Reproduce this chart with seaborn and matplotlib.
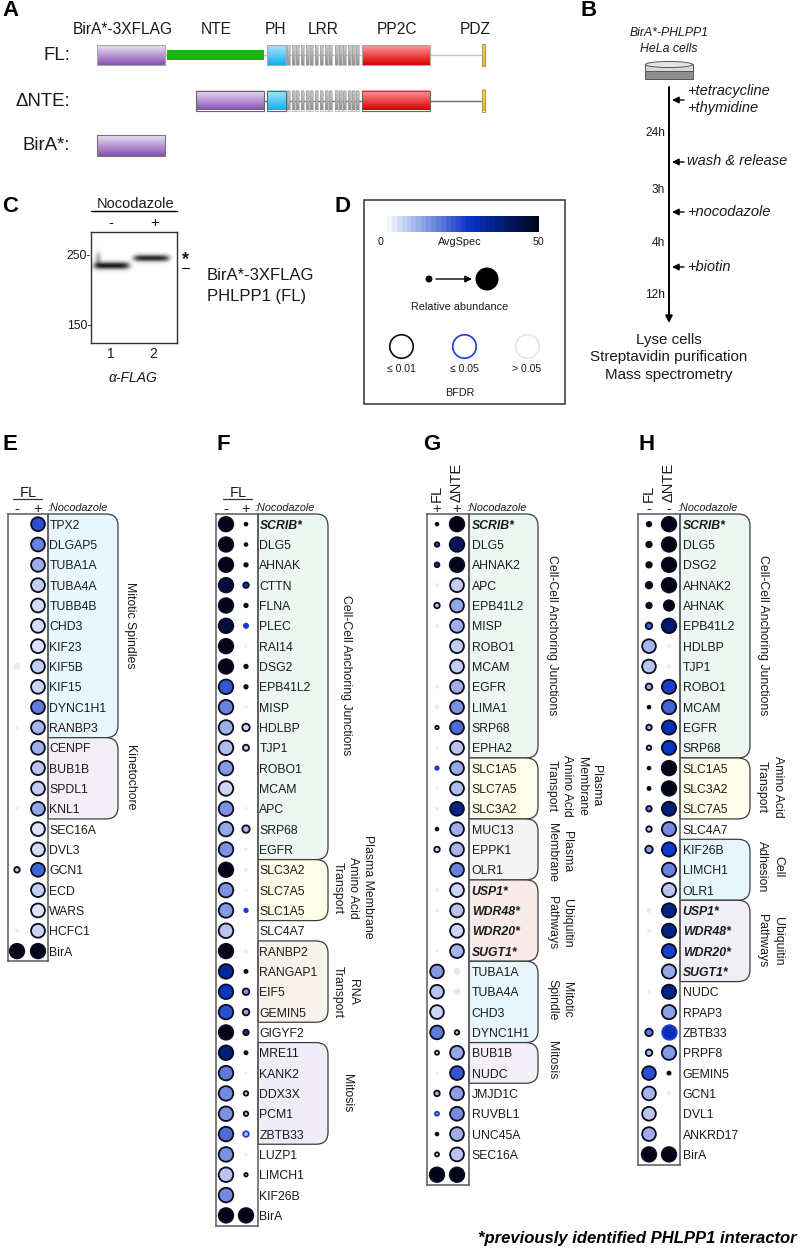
"""Recreate the PHLPP1 BioID figure: domain maps, workflow, blot, legend and four dot plots."""
import matplotlib
matplotlib.use("Agg")
import matplotlib.pyplot as plt
import numpy as np
import pandas as pd
import seaborn as sns
from matplotlib.cm import ScalarMappable
from matplotlib.colors import LinearSegmentedColormap, Normalize, to_rgb
from matplotlib.patches import Ellipse, PathPatch, Rectangle
from matplotlib.path import Path

W, H = 800, 1253
ROW = 20.33
TOP = 514

# BFDR classes: 0 is <= 0.01, 1 is <= 0.05, 2 is > 0.05. None means no dot.
E_GENES = ["TPX2", "DLGAP5", "TUBA1A", "TUBA4A", "TUBB4B", "CHD3", "KIF23", "KIF5B", "KIF15", "DYNC1H1", "RANBP3",
           "CENPF", "BUB1B", "SPDL1", "KNL1", "SEC16A", "DVL3", "GCN1", "ECD", "WARS", "HCFC1", "BirA"]
E_AVG_0 = [None, None, None, None, None, None, None, 12, None, None, 10, None, None, None, 10, None, None, 8, None, None, 10, 50]
E_REL_0 = [None, None, None, None, None, None, None, .2, None, None, .05, None, None, None, .05, None, None, .12, None, None, .08, 1]
E_FDR_0 = [2, 2, 2, 2, 2, 2, 2, 2, 2, 2, 2, 2, 2, 2, 2, 2, 2, 0, 2, 2, 2, 0]
E_AVG_1 = [24, 17, 11, 7, 5, 5, 4, 7, 6, 18, 10, 11, 8, 7, 12, 4, 5, 21, 7, 4, 6, 50]
E_REL_1 = [.9, .9, .9, .9, .9, .9, .9, .9, .9, .9, .9, .9, .9, .9, .9, .9, .9, .9, .9, .9, .9, 1]
E_FDR_1 = [0] * 22

F_GENES = ["SCRIB*", "DLG5", "AHNAK", "CTTN", "FLNA", "PLEC", "RAI14", "DSG2", "EPB41L2", "MISP", "HDLBP", "TJP1",
           "ROBO1", "MCAM", "APC", "SRP68", "EGFR", "SLC3A2", "SLC7A5", "SLC1A5", "SLC4A7", "RANBP2", "RANGAP1",
           "EIF5", "GEMIN5", "GIGYF2", "MRE11", "KANK2", "DDX3X", "PCM1", "ZBTB33", "LUZP1", "LIMCH1", "KIF26B", "BirA"]
F_AVG_0 = [50, 50, 50, 46, 50, 46, 50, 50, 23, 17, 11, 9, 14, 6, 15, 12, 15, 50, 15, 14, 8, 50, 34, 28, 24, 50,
           38, 18, 16, 15, 20, 15, 8, 16, 50]
F_REL_0 = [1] * 35
F_FDR_0 = [0] * 35
F_AVG_1 = [50, 50, 45, 27, 45, 27, 10, 45, 45, 10, 6, 6, None, None, 10, 9, 10, 10, 10, 27, None, 10, 40, 15, 12, 30,
           40, 10, 8, 8, 8, 10, 7, None, 50]
F_REL_1 = [.01, .01, .03, .12, .03, .06, .03, .03, .03, .03, .24, .15, None, None, .03, .24, .06, .06, .02, .03, None,
           .06, .02, .18, .18, .12, .02, .02, .07, .07, .12, .03, .03, None, 1]
F_FDR_1 = [0, 0, 0, 0, 0, 1, 2, 0, 0, 2, 0, 0, 2, 2, 2, 0, 2, 2, 2, 1, 2, 2, 0, 0, 0, 0, 0, 2, 0, 0, 1, 2, 0, 2, 0]

G_GENES = ["SCRIB*", "DLG5", "AHNAK2", "APC", "EPB41L2", "MISP", "ROBO1", "MCAM", "EGFR", "LIMA1", "SRP68", "EPHA2",
           "SLC1A5", "SLC7A5", "SLC3A2", "MUC13", "EPPK1", "OLR1", "USP1*", "WDR48*", "WDR20*", "SUGT1*",
           "TUBA1A", "TUBA4A", "CHD3", "DYNC1H1", "BUB1B", "NUDC", "JMJD1C", "RUVBL1", "UNC45A", "SEC16A", ""]
G_AVG_0 = [50, 25, 30, 10, 8, 10, None, None, 10, 10, 8, 10, 27, 10, 10, 50, 6, None, 10, 10, None, 10,
           14, 8, 6, 18, 5, 10, 10, 15, 45, 5, 50]
G_REL_0 = [.01, .07, .08, .05, .12, .05, None, None, .05, .09, .03, .02, .03, .02, .05, .01, .12, None, .05, .05, None,
           .02, .88, .88, .88, .88, .05, .02, .12, .05, .01, .05, 1]
G_FDR_0 = [0, 0, 0, 2, 0, 2, 2, 2, 2, 2, 0, 2, 1, 2, 2, 0, 0, 2, 2, 2, 2, 2, 0, 0, 0, 0, 0, 2, 0, 1, 0, 0, 0]
G_AVG_1 = [50, 42, 50, 7, 12, 11, 7, 7, 11, 15, 20, 8, 12, 9, 36, 11, 10, 17, 6, 8, 6, 10, 14, 14, None, 8, 12, 23,
           13, 16, 11, 8, 50]
G_REL_1 = [1, 1, 1, .9, .9, .9, .9, .9, .9, .9, .9, .9, .9, .9, .9, .9, .9, .9, .9, .9, .9, .9, .2, .2, None, .07,
           .9, .9, .9, .9, .9, .9, 1]
G_FDR_1 = [0] * 22 + [2, 2, 2] + [0] * 8

H_GENES = ["SCRIB*", "DLG5", "DSG2", "AHNAK2", "AHNAK", "EPB41L2", "HDLBP", "TJP1", "ROBO1", "MCAM", "EGFR", "SRP68",
           "SLC1A5", "SLC3A2", "SLC7A5", "SLC4A7", "KIF26B", "LIMCH1", "OLR1", "USP1*", "WDR48*", "WDR20*", "SUGT1*",
           "NUDC", "RPAP3", "ZBTB33", "PRPF8", "GEMIN5", "GCN1", "DVL1", "ANKRD17", "BirA"]
H_AVG_0 = [50, 50, 50, 50, 50, 22, 10, 8, 12, 50, 12, 8, 50, 50, 18, 8, 14, None, None, 12, 10, None, None, 10, None,
           18, 10, 24, 10, 8, 11, 50]
H_REL_0 = [.07, .12, .12, .18, .12, .18, .88, .88, .18, .01, .12, .07, .01, .02, .12, .12, .24, None, None, .09, .05,
           None, None, .02, None, .24, .18, .88, .88, .88, .88, 1]
H_FDR_0 = [0] * 19 + [2, 2, 2, 2, 2, 2] + [0] * 7
H_AVG_1 = [50, 50, 50, 50, 50, 40, 10, 10, 26, 21, 30, 28, 50, 50, 38, 16, 27, 17, 8, 36, 36, 26, 12, 36, 13, 30, 14,
           50, 10, None, None, 50]
H_REL_1 = [1, 1, 1, 1, .5, 1, .09, .09, .95, .95, .95, .95, 1, 1, .95, .95, .95, .95, .95, .95, .95, .95, .95, .95,
           .95, 1, .95, .02, .09, None, None, 1]
H_FDR_1 = [0] * 6 + [2, 2] + [0] * 17 + [1, 0, 0, 2, 2, 2, 0]

# label start, label end, tint
E_GROUPS = [(0, 10, "#e8f6fd"), (11, 14, "#f3eef8")]
F_GROUPS = [(0, 16, "#ebf7f0"), (17, 19, "#fefde9"), (21, 24, "#f8f2ec"), (26, 30, "#f0ecf8")]
G_GROUPS = [(0, 11, "#ebf7f0"), (12, 14, "#fefde9"), (15, 17, "#f4f4f4"), (18, 21, "#f8ebe9"), (22, 25, "#e8f6fd"),
            (26, 27, "#f3eef8")]
H_GROUPS = [(0, 11, "#ebf7f0"), (12, 14, "#fefde9"), (16, 18, "#e8f6fd"), (19, 22, "#f2eef8")]

GROUP_LABELS = [
    ("Mitotic Spindles", 130, 625), ("Kinetochore", 130, 778),
    ("Cell-Cell Anchoring Junctions", 346, 675), ("Plasma Membrane", 368, 887), ("Amino Acid", 353, 888),
    ("Transport", 338, 888), ("RNA", 353, 992), ("Transport", 338, 992), ("Mitosis", 347, 1093),
    ("Cell-Cell Anchoring Junctions", 552, 635), ("Plasma", 596, 786), ("Membrane", 582, 786),
    ("Amino Acid", 567, 786), ("Transport", 552, 786), ("Plasma", 567, 852), ("Membrane", 552, 852),
    ("Ubiquitin", 567, 923), ("Pathways", 552, 923), ("Mitotic", 567, 1000), ("Spindle", 552, 1000),
    ("Mitosis", 552, 1060),
    ("Cell-Cell Anchoring Junctions", 763, 635), ("Amino Acid", 778, 787), ("Transport", 762, 787),
    ("Cell", 778, 867), ("Adhesion", 762, 867), ("Ubiquitin", 778, 941), ("Pathways", 762, 941),
]

DOMAIN_NAMES = ["BirA*-3XFLAG", "NTE", "PH", "LRR", "PP2C", "PDZ"]
TIME_LABELS = ["24h", "3h", "4h", "12h"]
BFDR_KEY = ["≤ 0.01", "≤ 0.05", "> 0.05"]
ABUNDANCE_KEY = [0, 1]

sns.set_style("white")
plt.rcParams["font.family"] = ["Liberation Sans", "DejaVu Sans"]

CMAP = LinearSegmentedColormap.from_list(
    "avgspec", [(0, "#ffffff"), (.55, "#0a35c8"), (.75, "#00207f"), (1, "#02041a")])
INK = "#1a1a1a"

fig = plt.figure(figsize=(W / 100, H / 100), dpi=100, facecolor="white")
bg = fig.add_axes([0, 0, 1, 1], zorder=0)


def px_axes(x0, y0, x1, y1, z=2):
    return fig.add_axes([x0 / W, 1 - y1 / H, (x1 - x0) / W, (y1 - y0) / H], zorder=z, facecolor="none")


def label(x, y, s, size=8.8, ha="center", va="center", **kw):
    bg.text(x, y, s, fontsize=size, ha=ha, va=va, color=kw.pop("color", INK), **kw)


def grad_box(x0, y0, x1, y1, top, bottom, edge="#8a8a8a", lw=.8):
    ramp = np.linspace(to_rgb(top), to_rgb(bottom), 32)[:, None, :]
    bg.imshow(ramp, extent=(x0, x1, y1, y0), aspect="auto", interpolation="bilinear", zorder=2)
    bg.add_patch(Rectangle((x0, y0), x1 - x0, y1 - y0, fill=False, ec=edge, lw=lw, zorder=3))


def construct(y, x_birA, nte, line, edge):
    bg.plot([x_birA[1], 482], [y, y], color=line, lw=1, zorder=1)
    grad_box(x_birA[0], y - 10, x_birA[1], y + 10, "#ebe2f5", "#8650b0", edge)
    if nte:
        bg.add_patch(Rectangle((167, y - 5), 97, 10, color="#12b80f", lw=0, zorder=2))
    grad_box(267, y - 10, 286, y + 10, "#a8e6fb", "#16aeef", edge)
    for x in list(np.arange(287, 330, 4.7)) + list(np.arange(335, 360, 4.2)):
        grad_box(x, y - 10, x + 3, y + 10, "#cccccc", "#929292", "#9a9a9a", lw=.4)
    grad_box(362, y - 10, 430, y + 10, "#ff9a9a", "#d60000", edge)
    grad_box(482, y - 11, 485, y + 11, "#f8d660", "#f0b818", "#b09a50")


def panel_frame(genes, avg0, rel0, fdr0, avg1, rel1, fdr1):
    a = pd.DataFrame({"row": range(len(genes)), "col": 0, "avg": avg0, "rel": rel0, "fdr": fdr0})
    b = pd.DataFrame({"row": range(len(genes)), "col": 1, "avg": avg1, "rel": rel1, "fdr": fdr1})
    d = pd.concat([a, b], ignore_index=True)
    d["avg"] = pd.to_numeric(d["avg"])
    d["rel"] = pd.to_numeric(d["rel"])
    return d.dropna(subset=["rel"])


def dot_panel(genes, frame, x0, x_dots, x1, groups, right, pad):
    y1 = TOP + len(genes) * ROW
    for first, last, tint in groups:
        top = TOP + first * ROW
        bot = TOP + (last + 1) * ROW
        r = 12
        verts = [(x1, top), (right - r, top), (right, top), (right, top + r), (right, bot - r),
                 (right, bot), (right - r, bot), (x1, bot), (x1, top)]
        codes = [Path.MOVETO, Path.LINETO, Path.CURVE3, Path.CURVE3, Path.LINETO, Path.CURVE3, Path.CURVE3,
                 Path.LINETO, Path.CLOSEPOLY]
        bg.add_patch(PathPatch(Path(verts, codes), fc=tint, ec="#3c3c3c", lw=.9, zorder=1))

    ax = px_axes(x0, TOP, x1, y1)
    styles = {0: ("#0b0b1e", 1.3, 1), 1: ("#1a3fd0", 1.3, 1), 2: ("none", 0, .22)}
    for level, (edge, lw, alpha) in styles.items():
        sub = frame[frame["fdr"] == level]
        if sub.empty:
            continue
        sns.scatterplot(data=sub, x="col", y="row", hue="avg", hue_norm=(0, 50), palette=CMAP, size="rel",
                        size_norm=(0, 1), sizes=(3, 110), edgecolor=edge, linewidth=lw, alpha=alpha,
                        legend=False, clip_on=False, ax=ax)
    step = x_dots[1] - x_dots[0]
    ax.set_xlim((x0 - x_dots[0]) / step, (x1 - x_dots[0]) / step)
    ax.set_ylim(len(genes) - .5, -.5)
    ax.set_xticks([])
    ax.set_xlabel("")
    ax.set_ylabel("")
    ax.yaxis.tick_right()
    ax.set_yticks(range(len(genes)), genes)
    ax.tick_params(axis="y", length=0, pad=pad, labelsize=8.8, labelcolor=INK)
    for tick, name in zip(ax.get_yticklabels(), genes):
        if name.endswith("*"):
            tick.set_fontweight("bold")
            tick.set_fontstyle("italic")
    for s in ax.spines.values():
        s.set_visible(True)
        s.set_color("#5a5a5a")
        s.set_linewidth(1.1)
    return ax


# panel A: domain maps
for x, name in zip([123, 216, 276, 323, 397, 475], DOMAIN_NAMES):
    label(x, 30, name, size=11.2)
label(70, 55, "FL:", size=13.4, ha="right")
label(70, 101, "ΔNTE:", size=13.4, ha="right")
label(70, 146, "BirA*:", size=13.4, ha="right")
construct(55, (97, 165), True, "#c4c4c4", "#a8a8a8")
construct(100.5, (196, 264), False, "#707070", "#666666")
grad_box(97, 135, 165, 156, "#ebe2f5", "#8650b0", "#777777")

# panel B: workflow
label(669, 33, "BirA*-PHLPP1", style="italic")
label(669, 49, "HeLa cells", style="italic")
bg.add_patch(Rectangle((645, 71), 48, 8, fc="#8e8e8e", ec="#555555", lw=.7, zorder=2))
bg.add_patch(Rectangle((645, 64), 48, 7, fc="#d8d8d8", ec="#555555", lw=.7, zorder=2))
bg.add_patch(Ellipse((669, 64.5), 47, 6, fc="#e6e6e6", ec="#555555", lw=.7, zorder=3))
bg.annotate("", xy=(669, 323), xytext=(669, 87), arrowprops=dict(arrowstyle="-|>", color="black", lw=1.4, shrinkA=0, shrinkB=0))
for y in [100, 162, 212, 267]:
    bg.annotate("", xy=(672, y), xytext=(684, y), arrowprops=dict(arrowstyle="-|>", color="black", lw=1, shrinkA=0, shrinkB=0))
for y, s in [(91, "+tetracycline"), (108, "+thymidine"), (161, "wash & release"), (212, "+nocodazole"), (267, "+biotin")]:
    label(687, y, s, size=10.5, ha="left", style="italic")
for y, s in zip([133, 190, 243, 295], TIME_LABELS):
    label(665, y, s, size=8.6, ha="right")
for y, s in [(340, "Lyse cells"), (357, "Streptavidin purification"), (375, "Mass spectrometry")]:
    label(669, y, s, size=10.9)

# panel C: blot
label(136, 204, "Nocodazole", size=10.5)
bg.plot([91, 177], [211, 211], color="black", lw=1)
label(111, 223, "-", size=11)
label(155, 223, "+", size=11)
blot = px_axes(91, 232, 177, 343)
yy, xx = np.mgrid[232:343:222j, 91:177:172j]
band_1 = .9 * np.exp(-((yy - 265.5) / 3.6) ** 2) * np.exp(-((xx - 111.5) / 18) ** 6)
band_2 = .85 * np.exp(-((yy - 258) / 3.3) ** 2) * np.exp(-((xx - 151.5) / 18) ** 6)
smear = .3 * np.exp(-((yy - 258) / 6) ** 2) * np.exp(-((xx - 98) / 3) ** 2)
blot.imshow(1 - np.clip(band_1 + band_2 + smear, 0, 1), cmap="gray", vmin=0, vmax=1, aspect="auto",
            interpolation="bilinear")
blot.set_xticks([])
blot.set_yticks([])
for s in blot.spines.values():
    s.set_visible(True)
    s.set_color("#333333")
    s.set_linewidth(1)
label(91, 256, "250-", size=8.8, ha="right")
label(91, 326, "150-", size=8.8, ha="right")
label(185, 260, "*", size=13, weight="bold")
bg.plot([182, 189], [268, 268], color="black", lw=.8)
label(207, 276, "BirA*-3XFLAG", size=12, ha="left")
label(207, 296, "PHLPP1 (FL)", size=12, ha="left")
label(111, 354, "1", size=10)
label(153, 354, "2", size=10)
label(133, 378, "α-FLAG", size=10, style="italic")

# panel D: legend
bg.add_patch(Rectangle((364, 200), 201, 204, fill=False, ec="#333333", lw=1.1))
cax = px_axes(382, 216, 539, 232)
bar = fig.colorbar(ScalarMappable(Normalize(0, 50), CMAP.resampled(32)), cax=cax, orientation="horizontal")
bar.set_ticks([])
bar.outline.set_visible(False)
label(381, 242, "0", size=7.6)
label(460, 242, "AvgSpec", size=7.8)
label(538, 242, "50", size=7.6)
key = px_axes(429, 270, 487, 288)
sns.scatterplot(x=ABUNDANCE_KEY, y=[0, 0], size=ABUNDANCE_KEY, size_norm=(0, 1), sizes=(25, 274), color="black",
                linewidth=0, legend=False, clip_on=False, ax=key)
key.set_xlim(0, 1)
key.set_ylim(-1, 1)
key.axis("off")
bg.annotate("", xy=(472, 279), xytext=(436, 279), arrowprops=dict(arrowstyle="-|>", color="black", lw=1, shrinkA=0, shrinkB=0))
label(460, 307, "Relative abundance", size=7.8)
key = px_axes(401, 332, 527, 360)
for i, edge in enumerate(["#0b0b1e", "#1a3fd0", "#e0e4f5"]):
    sns.scatterplot(x=[i], y=[0], s=286, color="white", edgecolor=edge, linewidth=1.2, legend=False, clip_on=False, ax=key)
key.set_xlim(0, 2)
key.set_ylim(-1, 1)
key.axis("off")
for x, s in zip([401, 464, 527], BFDR_KEY):
    label(x, 369, s, size=7.6)
label(460, 393, "BFDR", size=7.8)

# panels E to H: dot plots
dot_panel(E_GENES, panel_frame(E_GENES, E_AVG_0, E_REL_0, E_FDR_0, E_AVG_1, E_REL_1, E_FDR_1),
          8, (17, 38), 48, E_GROUPS, 118, 1)
dot_panel(F_GENES, panel_frame(F_GENES, F_AVG_0, F_REL_0, F_FDR_0, F_AVG_1, F_REL_1, F_FDR_1),
          216, (226, 246), 258, F_GROUPS, 328, 1)
dot_panel(G_GENES, panel_frame(G_GENES, G_AVG_0, G_REL_0, G_FDR_0, G_AVG_1, G_REL_1, G_FDR_1),
          427, (437, 457), 469, G_GROUPS, 538, 2)
dot_panel(H_GENES, panel_frame(H_GENES, H_AVG_0, H_REL_0, H_FDR_0, H_AVG_1, H_REL_1, H_FDR_1),
          638, (649, 669), 680, H_GROUPS, 750, 2)

for x, y, s in [(28, 493, "FL"), (238, 493, "FL")]:
    label(x, y, s, size=10.5)
bg.plot([13, 42], [499, 499], color="#333333", lw=.9)
bg.plot([223, 252], [499, 499], color="#333333", lw=.9)
for x, s in [(17, "-"), (38, "+"), (226, "-"), (246, "+"), (437, "+"), (457, "+"), (649, "-"), (669, "-")]:
    label(x, 509, s, size=10.5)
for x in [48, 255, 467, 678]:
    label(x, 508, ":Nocodazole", size=7.8, ha="left", style="italic")
for x, s in [(437, "FL"), (457, "ΔNTE"), (649, "FL"), (669, "ΔNTE")]:
    label(x, 502, s, size=10.5, rotation=90, va="bottom")

for s, x, y in GROUP_LABELS:
    label(x, y, s, rotation=270)

for x, y, s in [(2, 11, "A"), (580, 10, "B"), (2, 206, "C"), (335, 206, "D"),
                (2, 444, "E"), (216, 444, "F"), (423, 444, "G"), (638, 444, "H")]:
    label(x, y, s, size=16, ha="left", weight="bold", color="black")

label(797, 1239, "*previously identified PHLPP1 interactor", size=12, ha="right", weight="bold", style="italic", color="black")

bg.set_xlim(0, W)
bg.set_ylim(H, 0)
bg.axis("off")

fig.savefig("out.png", dpi=100)
